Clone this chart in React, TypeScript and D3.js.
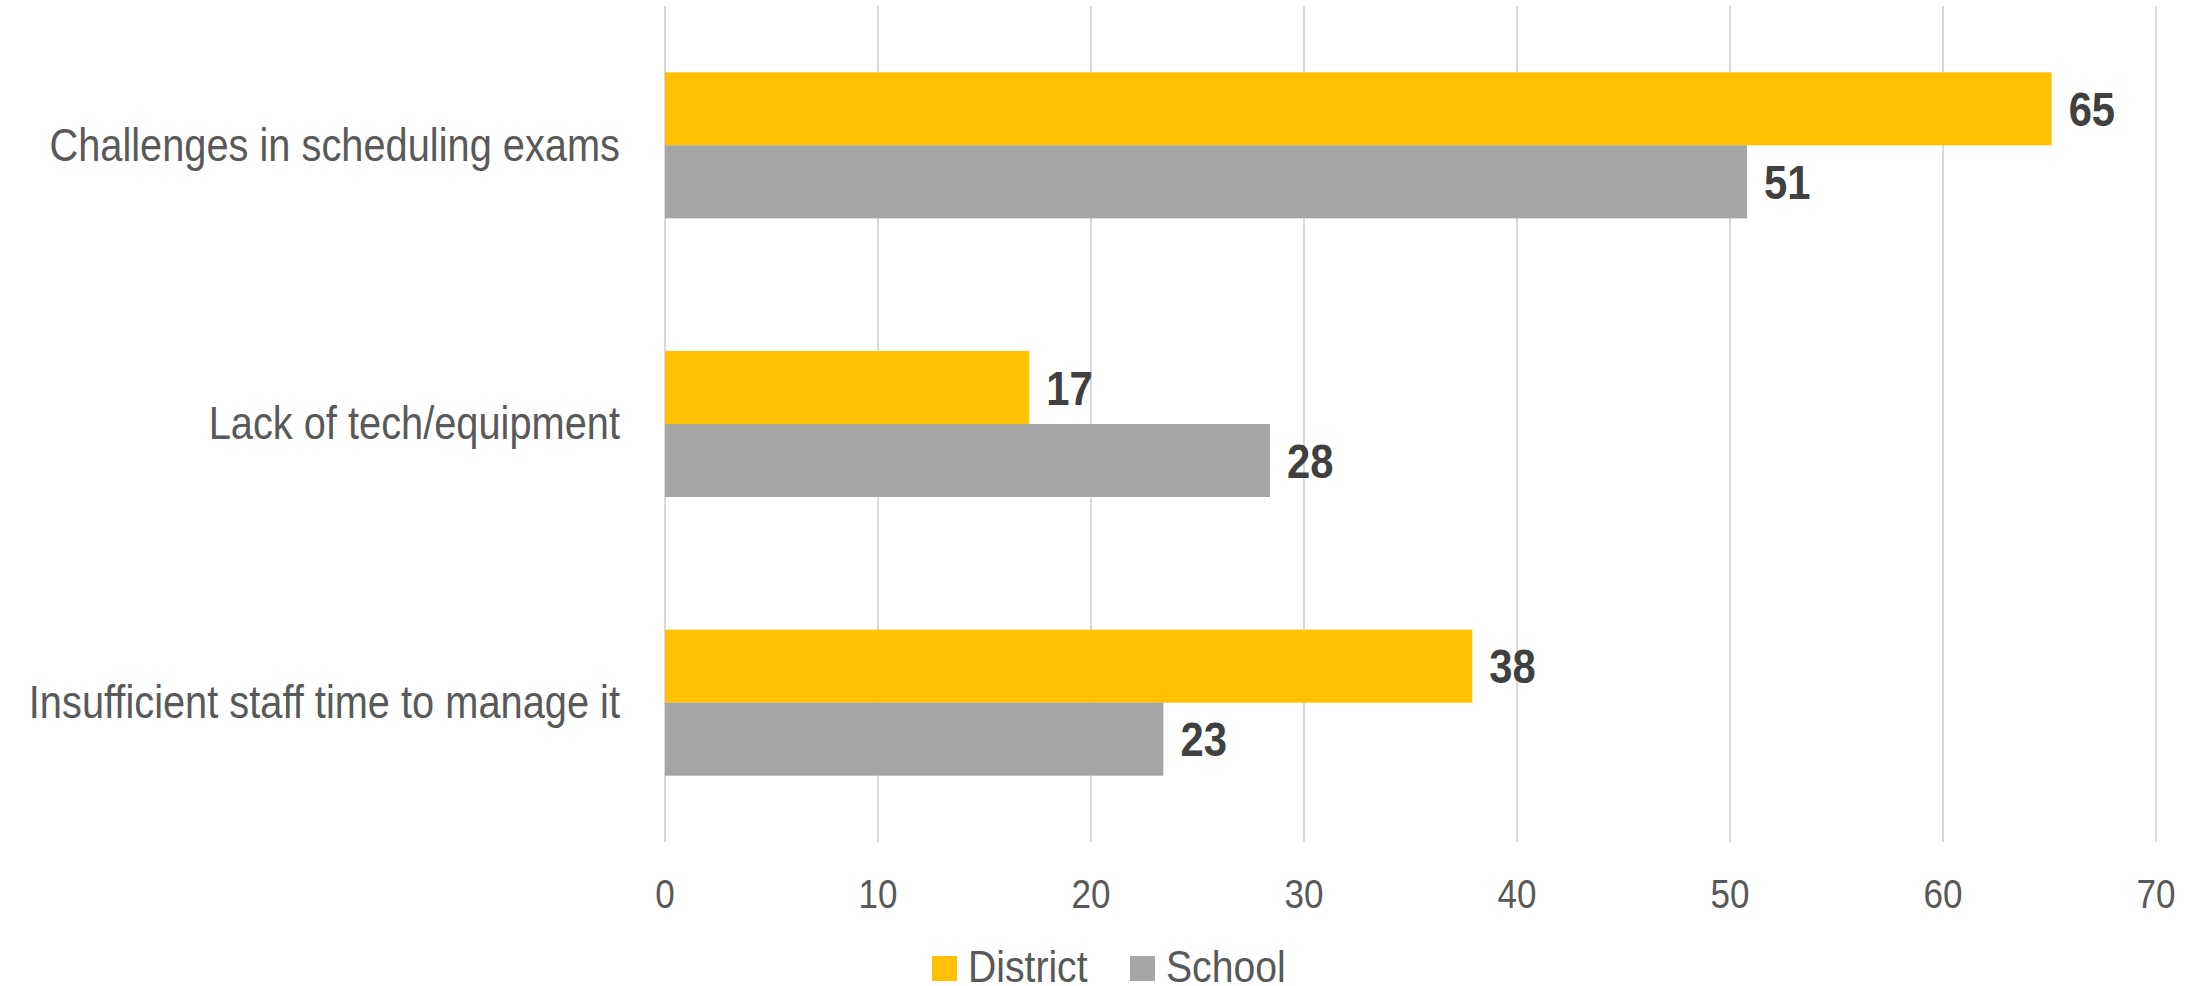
import React from "react";
import * as d3 from "d3";

const categories = [
  "Challenges in scheduling exams",
  "Lack of tech/equipment",
  "Insufficient staff time to manage it",
];
const seriesNames = ["District", "School"];
const districtValues = [65.1, 17.1, 37.9];
const schoolValues = [50.8, 28.4, 23.4];
const xTicks = [0, 10, 20, 30, 40, 50, 60, 70];
const colors = ["#FFC000", "#A5A5A5"];

const W = 2203;
const H = 986;
const FONT = "'Liberation Sans', Arial, sans-serif";

function Squeezed(props: {
  x: number;
  y: number;
  sx: number;
  anchor?: string;
  size: number;
  weight?: string;
  fill: string;
  dy?: string;
  children: React.ReactNode;
}) {
  return (
    <text
      transform={`translate(${props.x},${props.y}) scale(${props.sx},1)`}
      textAnchor={props.anchor || "start"}
      fontSize={props.size}
      fontWeight={props.weight || "normal"}
      fill={props.fill}
      dy={props.dy}
    >
      {props.children}
    </text>
  );
}

export default function App() {
  const x = d3.scaleLinear().domain([0, 70]).range([665, 2156]);
  const y = d3
    .scaleBand<string>()
    .domain(categories)
    .range([6, 842])
    .paddingInner(0.476)
    .paddingOuter(0.238);
  const sub = d3.scaleBand<string>().domain(seriesNames).range([0, y.bandwidth()]);
  const series = [districtValues, schoolValues];
  const fmt = d3.format(".0f");

  const legendX = [932, 1130];

  return (
    <svg
      width={W}
      height={H}
      style={{ position: "absolute", left: 0, top: 0, display: "block", background: "#fff" }}
      fontFamily={FONT}
    >
      {xTicks.map((t) => (
        <line key={"g" + t} x1={x(t)} x2={x(t)} y1={6} y2={842} stroke="#D9D9D9" strokeWidth={2} />
      ))}
      {xTicks.map((t) => (
        <Squeezed key={"t" + t} x={x(t)} y={908} sx={0.855} anchor="middle" size={41} fill="#595959">
          {t}
        </Squeezed>
      ))}
      {categories.map((c, i) => (
        <g key={c}>
          <Squeezed
            x={620}
            y={(y(c) as number) + y.bandwidth() / 2}
            dy="0.33em"
            sx={0.865}
            anchor="end"
            size={46}
            fill="#595959"
          >
            {c}
          </Squeezed>
          {series.map((vals, si) => {
            const by = (y(c) as number) + (sub(seriesNames[si]) as number);
            return (
              <g key={si}>
                <rect x={x(0)} y={by} width={x(vals[i]) - x(0)} height={sub.bandwidth()} fill={colors[si]} />
                <Squeezed
                  x={x(vals[i]) + 17}
                  y={by + sub.bandwidth() / 2}
                  dy="0.36em"
                  sx={0.87}
                  size={48}
                  weight="bold"
                  fill="#404040"
                >
                  {fmt(vals[i])}
                </Squeezed>
              </g>
            );
          })}
        </g>
      ))}
      {seriesNames.map((s, si) => (
        <g key={s}>
          <rect x={legendX[si]} y={956} width={25} height={25} fill={colors[si]} />
          <Squeezed x={legendX[si] + 36} y={982} sx={0.87} size={45} fill="#595959">
            {s}
          </Squeezed>
        </g>
      ))}
    </svg>
  );
}
